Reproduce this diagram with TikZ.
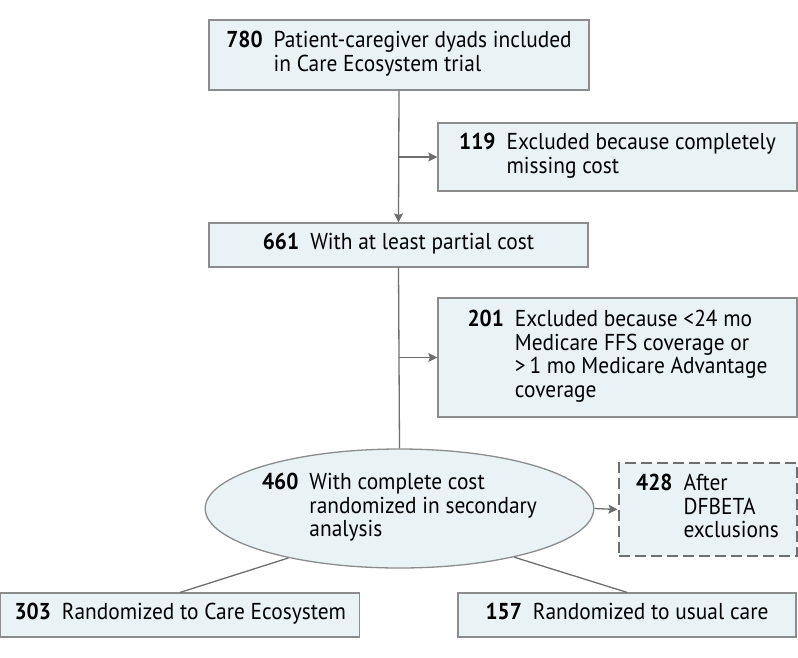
\documentclass[tikz,border=0pt]{standalone}
\usepackage{fontspec}
\setmainfont[FakeStretch=0.93]{PT Sans}
\usetikzlibrary{arrows.meta,shapes.geometric}
\definecolor{boxfill}{HTML}{E9F3F5}
\definecolor{boxline}{HTML}{8C8C8C}
\definecolor{connline}{HTML}{6E6E6E}
\newcommand{\flowtext}[2]{\begin{tabular}{@{}l@{\hspace{11pt}}l@{}}\textbf{#1} & \begin{tabular}[t]{@{}l@{}}#2\end{tabular}\end{tabular}}
\tikzset{
  flowbox/.style={draw=boxline, fill=boxfill, line width=1.3pt, inner sep=0pt,
    font=\fontsize{23}{23.5}\selectfont},
  dashbox/.style={flowbox, draw=connline, line width=2pt, dash pattern=on 11pt off 5pt},
  ellbox/.style={flowbox, ellipse},
  conn/.style={draw=connline, line width=1.3pt},
  arr/.style={conn, -{Stealth[length=9pt,width=9pt,inset=1.5pt]}}
}
\begin{document}
\begin{tikzpicture}[x=1pt,y=-1pt]
\useasboundingbox (0,0) rectangle (798,657);
\node[flowbox, minimum width=380pt, minimum height=70pt] (b780) at (399,55)
  {\flowtext{780}{Patient-caregiver dyads included\\in Care Ecosystem trial}};
\node[flowbox, minimum width=359pt, minimum height=68pt] (b119) at (617.5,157)
  {\flowtext{119}{Excluded because completely\\missing cost}};
\node[flowbox, minimum width=379pt, minimum height=44pt] (b661) at (398.5,245)
  {\flowtext{661}{With at least partial cost}};
\node[flowbox, minimum width=359pt, minimum height=119pt] (b201) at (617.5,357.5)
  {\flowtext{201}{Excluded because <24 mo\\Medicare FFS coverage or\\>\,1 mo Medicare Advantage\\coverage}};
\node[ellbox, minimum width=381pt, minimum height=119pt] (e460) at (399.5,508.5)
  {\flowtext{460}{With complete cost\\randomized in secondary\\analysis}};
\node[dashbox, minimum width=178pt, minimum height=93pt] (b428) at (707.5,509.5)
  {\flowtext{428}{After\\DFBETA\\exclusions}};
\node[flowbox, minimum width=359pt, minimum height=44pt] (b303) at (180.3,615)
  {\flowtext{303}{Randomized to Care Ecosystem}};
\node[flowbox, minimum width=338pt, minimum height=44pt] (b157) at (627,615)
  {\flowtext{157}{Randomized to usual care}};
\draw[arr] (b780.south) -- (b661.north);
\draw[arr] (b780.south |- b119.west) -- (b119.west);
\draw[conn] (b661.south) -- (e460.north);
\draw[arr] (b661.south |- b201.west) -- (b201.west);
\draw[arr] (e460.east) -- (b428.west);
\draw[conn] (e460.204) -- (b303.north);
\draw[conn] (e460.337) -- (b157.north);
\end{tikzpicture}
\end{document}
